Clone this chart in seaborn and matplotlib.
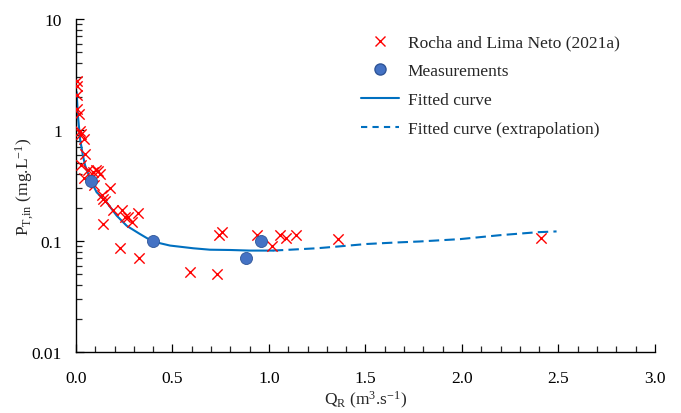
import numpy as np
import pandas as pd
import matplotlib
matplotlib.use("Agg")
import matplotlib.pyplot as plt
import seaborn as sns
from matplotlib.ticker import LogLocator, MultipleLocator, FixedLocator, FixedFormatter, NullFormatter
from matplotlib.lines import Line2D

# ---------------- data ----------------
rocha_q = [0.004, 0.006, 0.007, 0.007, 0.014, 0.019, 0.027, 0.041, 0.045, 0.027,
           0.062, 0.105, 0.041, 0.093, 0.175, 0.134, 0.141, 0.150, 0.193, 0.236,
           0.254, 0.271, 0.289, 0.323, 0.141, 0.228, 0.327, 0.090, 0.113, 0.123,
           0.59, 0.729, 0.741, 0.755, 0.94, 1.017, 1.057, 1.088, 1.138, 1.359, 2.41]
rocha_p = [2.78, 2.51, 2.05, 1.55, 1.40, 0.98, 0.92, 0.83, 0.61, 0.48,
           0.44, 0.44, 0.37, 0.32, 0.30, 0.26, 0.24, 0.23, 0.19, 0.19,
           0.165, 0.165, 0.147, 0.18, 0.143, 0.086, 0.070, 0.42, 0.43, 0.40,
           0.053, 0.050, 0.113, 0.12, 0.114, 0.090, 0.114, 0.106, 0.113, 0.104, 0.106]

meas_q = [0.078, 0.397, 0.879, 0.957]
meas_p = [0.345, 0.099, 0.070, 0.099]

fit_q = [0.003, 0.010, 0.021, 0.035, 0.047, 0.078, 0.107, 0.159, 0.211, 0.263,
         0.330, 0.397, 0.487, 0.608, 0.694, 0.80, 0.90, 1.02]
fit_p = [2.2, 1.35, 0.83, 0.60, 0.48, 0.345, 0.275, 0.223, 0.169, 0.137,
         0.116, 0.099, 0.091, 0.086, 0.0835, 0.0830, 0.0820, 0.0820]

ext_q = [1.02, 1.11, 1.247, 1.35, 1.506, 1.66, 1.78, 1.99, 2.20, 2.39, 2.49]
ext_p = [0.0820, 0.0835, 0.086, 0.089, 0.094, 0.097, 0.099, 0.104, 0.113, 0.120, 0.122]

x_ticks = [0.0, 0.5, 1.0, 1.5, 2.0, 2.5, 3.0]
x_labels = ["0.0", "0.5", "1.0", "1.5", "2.0", "2.5", "3.0"]
y_ticks = [0.01, 0.1, 1, 10]
y_labels = ["0.01", "0.1", "1", "10"]

# ---------------- style ----------------
sns.set_theme(style="ticks")
plt.rcParams["font.family"] = ["Liberation Serif", "DejaVu Serif"]
plt.rcParams["mathtext.fontset"] = "custom"
plt.rcParams["mathtext.rm"] = "Liberation Serif"
plt.rcParams["mathtext.it"] = "Liberation Serif:italic"
plt.rcParams["font.size"] = 12.5

fig = plt.figure(figsize=(6.81, 4.14), dpi=100)
ax = fig.add_axes([0.1116, 0.1473, 0.8502, 0.8044])

red = "#FF0000"
blue_dot = "#4472C4"
line_blue = "#0070C0"

df_r = pd.DataFrame({"q": rocha_q, "p": rocha_p})
df_m = pd.DataFrame({"q": meas_q, "p": meas_p})
df_f = pd.DataFrame({"q": fit_q, "p": fit_p})
df_e = pd.DataFrame({"q": ext_q, "p": ext_p})

sns.lineplot(data=df_f, x="q", y="p", ax=ax, color=line_blue, lw=1.5,
             sort=False, estimator=None)
sns.lineplot(data=df_e, x="q", y="p", ax=ax, color=line_blue, lw=1.5,
             sort=False, estimator=None, linestyle=(0, (5, 2.5)))
sns.scatterplot(data=df_r, x="q", y="p", ax=ax, marker="x", color=red,
                s=55, linewidth=1.0, zorder=3)
sns.scatterplot(data=df_m, x="q", y="p", ax=ax, marker="o", color=blue_dot,
                edgecolor="#2F5597", linewidth=0.6, s=75, zorder=4)

ax.set_yscale("log")
ax.set_xlim(0, 3.0)
ax.set_ylim(0.01, 10)

ax.xaxis.set_major_locator(FixedLocator(x_ticks))
ax.xaxis.set_major_formatter(FixedFormatter(x_labels))
ax.xaxis.set_minor_locator(MultipleLocator(0.1))
ax.yaxis.set_major_locator(FixedLocator(y_ticks))
ax.yaxis.set_major_formatter(FixedFormatter(y_labels))
ax.yaxis.set_minor_locator(LogLocator(base=10, subs=np.arange(2, 10)))
ax.yaxis.set_minor_formatter(NullFormatter())

ax.tick_params(axis="both", which="major", direction="in", length=6, width=0.9,
               labelsize=12.5, colors="black")
ax.tick_params(axis="x", which="major", pad=13)
ax.tick_params(axis="y", which="major", pad=10)
ax.tick_params(axis="both", which="minor", direction="in", length=4, width=0.9)
for s in ["top", "right"]:
    ax.spines[s].set_visible(False)
for s in ["left", "bottom"]:
    ax.spines[s].set_color("black")
    ax.spines[s].set_linewidth(1.0)

ax.set_xlabel(r"Q$_{\mathrm{R}}$ (m$^{3}$.s$^{-1}$)", fontsize=12.5, labelpad=2)
ax.set_ylabel(r"P$_{\mathrm{T,\!in}}$ (mg.L$^{-1}$)", fontsize=12.5, labelpad=-3)

handles = [
    Line2D([], [], marker="x", color=red, linestyle="none", markersize=7, markeredgewidth=1.0),
    Line2D([], [], marker="o", color=blue_dot, markeredgecolor="#2F5597",
           linestyle="none", markersize=8),
    Line2D([], [], color=line_blue, lw=1.5),
    Line2D([], [], color=line_blue, lw=1.5, linestyle=(0, (3, 2.5))),
]
labels = ["Rocha and Lima Neto (2021a)", "Measurements", "Fitted curve",
          "Fitted curve (extrapolation)"]
ax.legend(handles, labels, loc="upper left", bbox_to_anchor=(0.465, 1.0),
          frameon=False, fontsize=12.5, labelspacing=0.72, handlelength=2.2,
          handletextpad=0.5)

fig.savefig("out.png", dpi=100)
